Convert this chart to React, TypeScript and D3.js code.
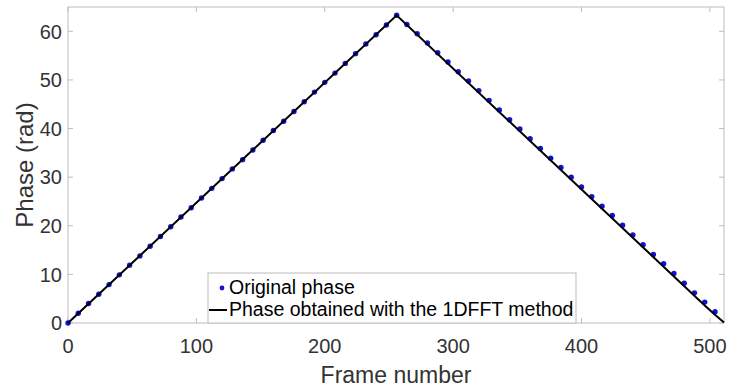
import { useEffect, useRef } from "react";
import * as d3 from "d3";

// original phase, sampled every 8 frames
const dotFrames = [
  0, 8, 16, 24, 32, 40, 48, 56, 64, 72, 80, 88, 96, 104, 112, 120, 128, 136,
  144, 152, 160, 168, 176, 184, 192, 200, 208, 216, 224, 232, 240, 248, 256,
  264, 272, 280, 288, 296, 304, 312, 320, 328, 336, 344, 352, 360, 368, 376,
  384, 392, 400, 408, 416, 424, 432, 440, 448, 456, 464, 472, 480, 488, 496,
  504,
];
const dotPhase = [
  0, 2.0, 4.0, 5.9, 7.9, 9.9, 11.9, 13.8, 15.8, 17.8, 19.8, 21.8, 23.7, 25.7,
  27.7, 29.7, 31.7, 33.6, 35.6, 37.6, 39.6, 41.5, 43.5, 45.5, 47.5, 49.5, 51.4,
  53.4, 55.4, 57.4, 59.3, 61.3, 63.3, 61.4, 59.5, 57.6, 55.6, 53.7, 51.7,
  49.8, 47.8, 45.8, 43.8, 41.8, 39.9, 37.9, 35.9, 33.9, 32.0, 30.0, 28.0, 26.0,
  24.0, 22.1, 20.1, 18.1, 16.1, 14.1, 12.2, 10.2, 8.2, 6.2, 4.3, 2.3,
];

// phase recovered with the 1DFFT method
const lineFrames = [0, 256, 496, 504, 511];
const linePhase = [0, 63.3, 3.6, 1.7, 0.1];

const xTicks = [0, 100, 200, 300, 400, 500];
const yTicks = [0, 10, 20, 30, 40, 50, 60];

const FONT = "'Liberation Sans', Arial, Helvetica, sans-serif";

export default function App() {
  const ref = useRef<SVGSVGElement>(null);

  useEffect(() => {
    if (!ref.current) return;
    const svg = d3.select(ref.current);
    svg.selectAll("*").remove();

    const left = 68,
      right = 724,
      top = 7,
      bottom = 323;

    const x = d3.scaleLinear().domain([0, 511]).range([left, right]);
    const y = d3.scaleLinear().domain([0, 65]).range([bottom, top]);

    const axisColor = "#bdbdbd";
    const textColor = "#333";
    const tickLen = 5;

    const g = svg.append("g");

    // box
    g.append("rect")
      .attr("x", left)
      .attr("y", top)
      .attr("width", right - left)
      .attr("height", bottom - top)
      .attr("fill", "none")
      .attr("stroke", axisColor)
      .attr("stroke-width", 1);

    // ticks, mirrored on all sides, pointing inward
    xTicks.forEach((t) => {
      g.append("line")
        .attr("x1", x(t))
        .attr("x2", x(t))
        .attr("y1", bottom)
        .attr("y2", bottom - tickLen)
        .attr("stroke", axisColor);
      g.append("line")
        .attr("x1", x(t))
        .attr("x2", x(t))
        .attr("y1", top)
        .attr("y2", top + tickLen)
        .attr("stroke", axisColor);
      g.append("text")
        .attr("x", x(t))
        .attr("y", 353)
        .attr("text-anchor", "middle")
        .attr("font-family", FONT)
        .attr("font-size", 20)
        .attr("fill", textColor)
        .text(t);
    });
    yTicks.forEach((t) => {
      g.append("line")
        .attr("x1", left)
        .attr("x2", left + tickLen)
        .attr("y1", y(t))
        .attr("y2", y(t))
        .attr("stroke", axisColor);
      g.append("line")
        .attr("x1", right)
        .attr("x2", right - tickLen)
        .attr("y1", y(t))
        .attr("y2", y(t))
        .attr("stroke", axisColor);
      g.append("text")
        .attr("x", 62)
        .attr("y", y(t))
        .attr("dy", "0.36em")
        .attr("text-anchor", "end")
        .attr("font-family", FONT)
        .attr("font-size", 20)
        .attr("fill", textColor)
        .text(t);
    });

    // axis titles
    g.append("text")
      .attr("x", (left + right) / 2)
      .attr("y", 383)
      .attr("text-anchor", "middle")
      .attr("font-family", FONT)
      .attr("font-size", 23)
      .attr("fill", textColor)
      .text("Frame number");
    g.append("text")
      .attr("transform", `translate(33,165) rotate(-90)`)
      .attr("text-anchor", "middle")
      .attr("font-family", FONT)
      .attr("font-size", 24)
      .attr("fill", textColor)
      .text("Phase (rad)");

    // original phase dots
    g.selectAll("circle.dot")
      .data(dotFrames)
      .enter()
      .append("circle")
      .attr("class", "dot")
      .attr("cx", (d) => x(d))
      .attr("cy", (d, i) => y(dotPhase[i]))
      .attr("r", 2.7)
      .attr("fill", "#1212d2");

    // recovered phase line
    const line = d3
      .line<number>()
      .x((d) => x(d))
      .y((d, i) => y(linePhase[i]));
    g.append("path")
      .datum(lineFrames)
      .attr("d", line)
      .attr("fill", "none")
      .attr("stroke", "#000")
      .attr("stroke-width", 2);

    // legend
    const lg = g.append("g");
    lg.append("rect")
      .attr("x", 208)
      .attr("y", 273)
      .attr("width", 368)
      .attr("height", 50)
      .attr("fill", "#fff")
      .attr("stroke", axisColor);
    lg.append("circle")
      .attr("cx", 222)
      .attr("cy", 288)
      .attr("r", 2.4)
      .attr("fill", "#1212d2");
    lg.append("text")
      .attr("x", 229)
      .attr("y", 294)
      .attr("font-family", FONT)
      .attr("font-size", 19.5)
      .attr("fill", "#000")
      .text("Original phase");
    lg.append("line")
      .attr("x1", 209)
      .attr("x2", 227)
      .attr("y1", 310)
      .attr("y2", 310)
      .attr("stroke", "#000")
      .attr("stroke-width", 2);
    lg.append("text")
      .attr("x", 229)
      .attr("y", 316)
      .attr("font-family", FONT)
      .attr("font-size", 19.5)
      .attr("fill", "#000")
      .text("Phase obtained with the 1DFFT method");
  }, []);

  return (
    <div style={{ position: "absolute", left: 0, top: 0 }}>
      <svg ref={ref} width={729} height={390} style={{ display: "block" }} />
    </div>
  );
}
